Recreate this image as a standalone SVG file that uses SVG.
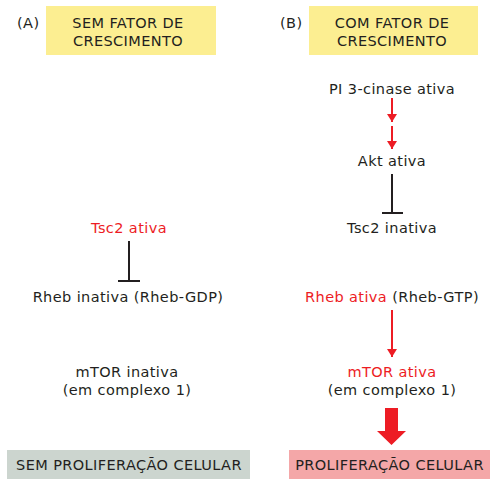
<svg xmlns="http://www.w3.org/2000/svg" width="490" height="479" viewBox="0 0 490 479">
<defs>
<style>
text{font-family:"DejaVu Sans","Open Sans",sans-serif;font-size:14.5px;letter-spacing:0.4px;fill:#231f20;text-anchor:middle}
.red{fill:#ed1c24}
.lbl{text-anchor:start}
.ln{stroke:#231f20;stroke-width:2;fill:none}
.rl{stroke:#ed1c24;stroke-width:2;fill:none}
</style>
<marker id="ah" viewBox="0 0 8 10" refX="8" refY="5" markerWidth="8" markerHeight="10" markerUnits="userSpaceOnUse" orient="auto">
<path d="M0,0L8,5L0,10z" fill="#ed1c24"/>
</marker>
</defs>
<rect width="490" height="479" fill="#fff"/>
<g id="labelA"><text x="17" y="28" class="lbl">(A)</text></g>
<g id="labelB"><text x="280" y="28" class="lbl">(B)</text></g>
<g id="semFator">
<rect x="46" y="6" width="170" height="49" fill="#fcee91"/>
<text x="128" y="28">SEM FATOR DE</text>
<text x="128" y="46">CRESCIMENTO</text>
</g>
<g id="comFator">
<rect x="309" y="6" width="169" height="49" fill="#fcee91"/>
<text x="392" y="28">COM FATOR DE</text>
<text x="392" y="46">CRESCIMENTO</text>
</g>
<g id="pi3k"><text x="392" y="94">PI 3-cinase ativa</text></g>
<g id="akt"><text x="392" y="166">Akt ativa</text></g>
<g id="tsc2inativa"><text x="392" y="233">Tsc2 inativa</text></g>
<g id="tsc2ativa"><text x="129" y="233" class="red">Tsc2 ativa</text></g>
<g id="rhebInativa"><text x="128" y="302">Rheb inativa (Rheb-GDP)</text></g>
<g id="rhebAtiva"><text x="392" y="302"><tspan class="red">Rheb ativa</tspan> (Rheb-GTP)</text></g>
<g id="mtorInativa"><text x="127" y="377">mTOR inativa</text><text x="127" y="395">(em complexo 1)</text></g>
<g id="mtorAtiva"><text x="392" y="377" class="red">mTOR ativa</text><text x="392" y="395">(em complexo 1)</text></g>
<g id="semProlif">
<rect x="7" y="450" width="243" height="29" fill="#ccd5cf"/>
<text x="129" y="470">SEM PROLIFERAÇÃO CELULAR</text>
</g>
<g id="prolif">
<rect x="289" y="450" width="201" height="29" fill="#f4a7a8"/>
<text x="389.5" y="470">PROLIFERAÇÃO CELULAR</text>
</g>
<g id="connectors">
<line x1="392" y1="98" x2="392" y2="122" class="rl" marker-end="url(#ah)"/>
<line x1="392" y1="126" x2="392" y2="149" class="rl" marker-end="url(#ah)"/>
<line x1="392" y1="174" x2="392" y2="213" class="ln"/>
<line x1="382" y1="213" x2="403" y2="213" class="ln"/>
<line x1="129" y1="241" x2="129" y2="281" class="ln"/>
<line x1="118" y1="281" x2="140" y2="281" class="ln"/>
<line x1="392" y1="310" x2="392" y2="357" class="rl" marker-end="url(#ah)"/>
<path d="M385,408H398V431H406L391.5,445L377,431H385z" fill="#ed1c24"/>
</g>
</svg>
